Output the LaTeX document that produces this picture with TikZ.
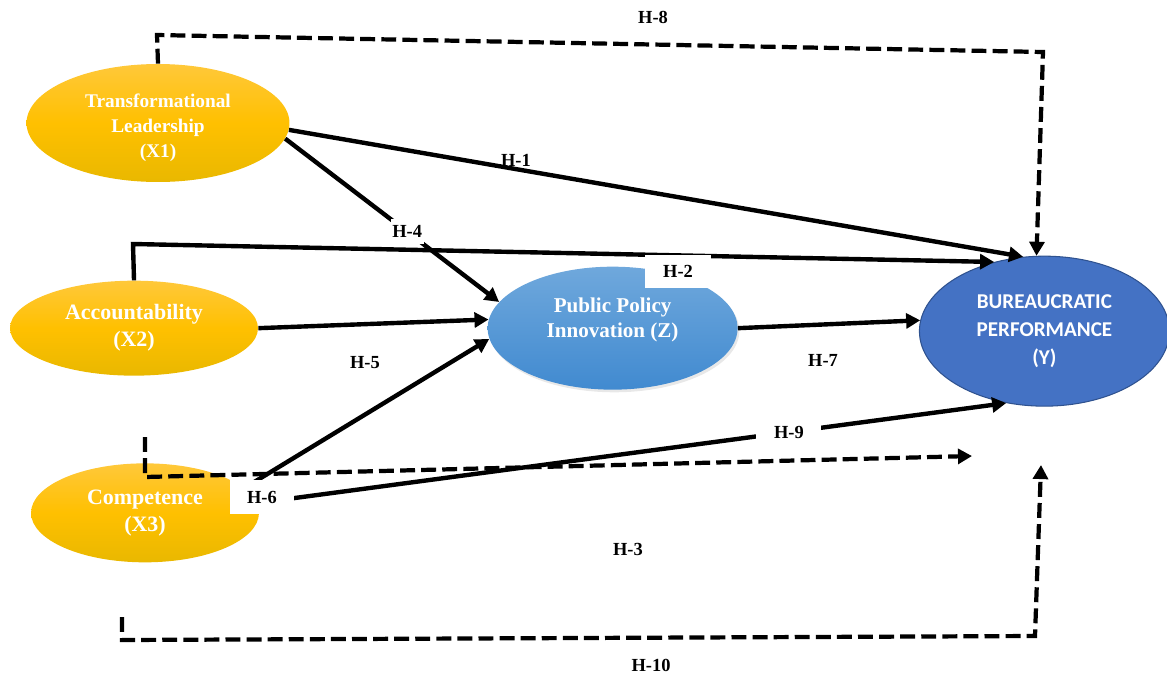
\documentclass[tikz,border=0pt]{standalone}
\usepackage{fontspec}
\setmainfont{Liberation Serif}
\newfontfamily\carlito{Carlito}
\usepackage{tikz}
\usetikzlibrary{shapes,arrows.meta,positioning,shadows}
\definecolor{goldtop}{RGB}{255,200,58}
\definecolor{goldmid}{RGB}{255,192,0}
\definecolor{goldbot}{RGB}{233,184,0}
\definecolor{innotop}{RGB}{111,168,220}
\definecolor{innobot}{RGB}{65,138,208}
\definecolor{perfblue}{RGB}{68,114,196}
\definecolor{perfedge}{RGB}{47,82,143}

\begin{document}
\begin{tikzpicture}[
    x=0.02cm, y=-0.02cm,
    >={Triangle[length=8pt,width=8.5pt]},
    construct/.style={ellipse, inner sep=0pt, text=white, align=center,
                      top color=goldtop, bottom color=goldbot, middle color=goldmid},
    mediator/.style={ellipse, inner sep=0pt, text=white,
                     top color=innotop, bottom color=innobot,
                     drop shadow={opacity=0.18, shadow xshift=1pt, shadow yshift=-1.5pt},
                     font=\fontsize{12}{14.6}\selectfont\bfseries},
    outcome/.style={ellipse, inner sep=0pt, text=white, align=center,
                    fill=perfblue, draw=perfedge, line width=0.6pt,
                    font=\carlito\fontsize{12}{16.2}\selectfont\bfseries},
    effect/.style={->, line width=2.5pt},
    moderated/.style={->, line width=2.4pt, dash pattern=on 8.5pt off 3.5pt},
    hyp/.style={font=\fontsize{10.5}{12}\selectfont\bfseries, inner sep=1pt},
    hypbox/.style={hyp, fill=white}
]
\useasboundingbox (0,0) rectangle (1167,677);

% Constructs
\node[construct, minimum width=5.26cm, minimum height=2.36cm,
      font=\fontsize{11}{14.2}\selectfont\bfseries] (x1) at (158,123)
      {\raisebox{-2.5pt}[\height][\depth]{\begin{tabular}{@{}c@{}}Transformational\\Leadership\\(X1)\end{tabular}}};
\node[construct, minimum width=4.96cm, minimum height=1.9cm, below=1.96cm of x1, xshift=-0.48cm,
      font=\fontsize{12.5}{15.4}\selectfont\bfseries] (x2) {Accountability\\(X2)};
\node[construct, minimum width=4.56cm, minimum height=1.98cm, below=1.74cm of x2, xshift=0.22cm,
      font=\fontsize{12.5}{15.4}\selectfont\bfseries] (x3) {Competence\\(X3)};

% Mediator and outcome
\node[mediator, minimum width=5cm, minimum height=2.46cm, right=4.58cm of x2] (z)
      {\raisebox{4.8pt}[\height][\depth]{\begin{tabular}{@{}c@{}}Public Policy\\Innovation (Z)\end{tabular}}};
\node[outcome, minimum width=5cm, minimum height=3cm, right=3.62cm of z, yshift=-0.06cm] (y) {BUREAUCRATIC\\PERFORMANCE\\(Y)};

% Bends of the dashed paths
\coordinate (h8a) at (157,35);
\coordinate (h8b) at (1043,52);
\coordinate (h2) at (133,244);
\coordinate (h3a) at (145,437);
\coordinate (h3b) at (145,477);
\coordinate (h3c) at (972,456);
\coordinate (h10a) at (122,617);
\coordinate (h10b) at (122,640);
\coordinate (h10c) at (1035,636);
\coordinate (h10d) at (1041,465);

% Direct effects
\draw[effect] (x1.357) -- (y.106);
\draw[effect] (x2.north) -- (h2) -- (y.126);
\draw[effect] (x1.353) -- node[hypbox, pos=0.57, minimum height=0.5cm] (lh4) {H-4} (z.167);
\draw[effect] (x2.east) -- (z.176);
\draw[effect] (x3.14) -- (z.185);
\draw[effect] (z.east) -- (y.175);
\draw[effect] (x3.5) -- node[hypbox, pos=0.71, minimum width=1.3cm] (lh9) {H-9} (y.242);

% Dashed paths
\draw[moderated] (x1.north) -- (h8a) -- (h8b) -- (y.96);
\draw[moderated] (h3a) -- (h3b) -- (h3c);
\draw[moderated] (h10a) -- (h10b) -- (h10c) -- (h10d);

% Hypothesis labels
\node[hyp] (lh8) at (653,17) {H-8};
\node[hyp] (lh1) at (516,160) {H-1};
\node[hypbox, minimum width=1.34cm, minimum height=0.66cm] (lh2) at (678,271) {H-2};
\node[hyp] (lh5) at (365,363) {H-5};
\node[hyp] (lh7) at (823,360) {H-7};
\node[hypbox, minimum width=1.3cm, minimum height=0.68cm] (lh6) at (262,497) {H-6};
\node[hyp] (lh3) at (628,549) {H-3};
\node[hyp] (lh10) at (651,665) {H-10};

\end{tikzpicture}
\end{document}
